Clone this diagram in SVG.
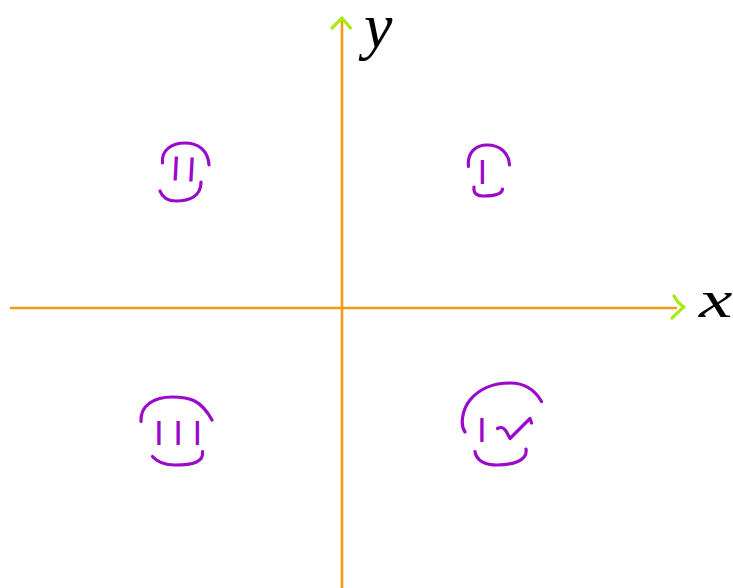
<svg xmlns="http://www.w3.org/2000/svg" width="733" height="588" viewBox="0 0 733 588">
<style>
.axis{stroke:#f29b17;stroke-width:2.6;fill:none;stroke-linecap:round}
.head{stroke:#a6ec12;stroke-width:3.2;fill:none;stroke-linecap:round;stroke-linejoin:round}
.arc{stroke:#9b0acb;stroke-width:3.2;fill:none;stroke-linecap:round;stroke-linejoin:round}
.num{fill:#9b0acb;font-family:"Liberation Sans",Arial,sans-serif;font-size:35px}
.lbl{fill:#000;font-family:"Liberation Serif","Times New Roman",serif;font-style:italic}
</style>
<rect width="733" height="588" fill="#fff"/>
<g id="axes">
<line class="axis" x1="342" y1="22" x2="342" y2="588"/>
<line class="axis" x1="11" y1="308" x2="676" y2="308"/>
<path class="head" d="M332,28 L342,18 L350.5,28"/>
<path class="head" d="M674,296 C676,300 679,304 684,307 C680,310 676,314 672,318"/>
<text class="lbl" x="364" y="47" font-size="64">y</text>
<text class="lbl" x="0" y="0" font-size="52" transform="translate(699,317) scale(1.45,1)">x</text>
</g>
<g id="quadrant-2">
<path class="arc" d="M162.5,163 C161,150 172,143 185,143 C198,143 208,150 209,165"/>
<text class="num" x="171" y="181" letter-spacing="6" transform="rotate(3 183 168)">II</text>
<path class="arc" d="M160,191 C163,199 170,201 176,201 C190,201 201,196 201,182"/>
</g>
<g id="quadrant-1">
<path class="arc" d="M468.5,166.5 C467,152 476,145 487,145 C500,145 509,153 509.5,165"/>
<text class="num" x="477.5" y="183.5">I</text>
<path class="arc" d="M474,187 C473,194 478,196 483,196 C494,196 502,194 502.5,189"/>
</g>
<g id="quadrant-3">
<path class="arc" d="M141,421.5 C140,405 155,397 172,397 C190,397 201,400 212,420"/>
<text class="num" x="154" y="445" letter-spacing="9.5">III</text>
<path class="arc" d="M152.5,456.5 C158,463 166,465 175,465 C193,465 204,462 202.5,451.5"/>
</g>
<g id="quadrant-4">
<path class="arc" d="M465,432 C460,425 462,410 470,400 C480,388 495,383 510,383 C525,383 535,390 541.5,401.5"/>
<text class="num" x="477" y="442">I</text>
<path class="arc" d="M497.5,428.5 C502,426 504,428 506,431 L510,438.5 L530,418.5 L531.5,423"/>
<path class="arc" d="M475,451.5 C476,461 486,465 497,465 C512,465 528,461 526,449"/>
</g>
</svg>
